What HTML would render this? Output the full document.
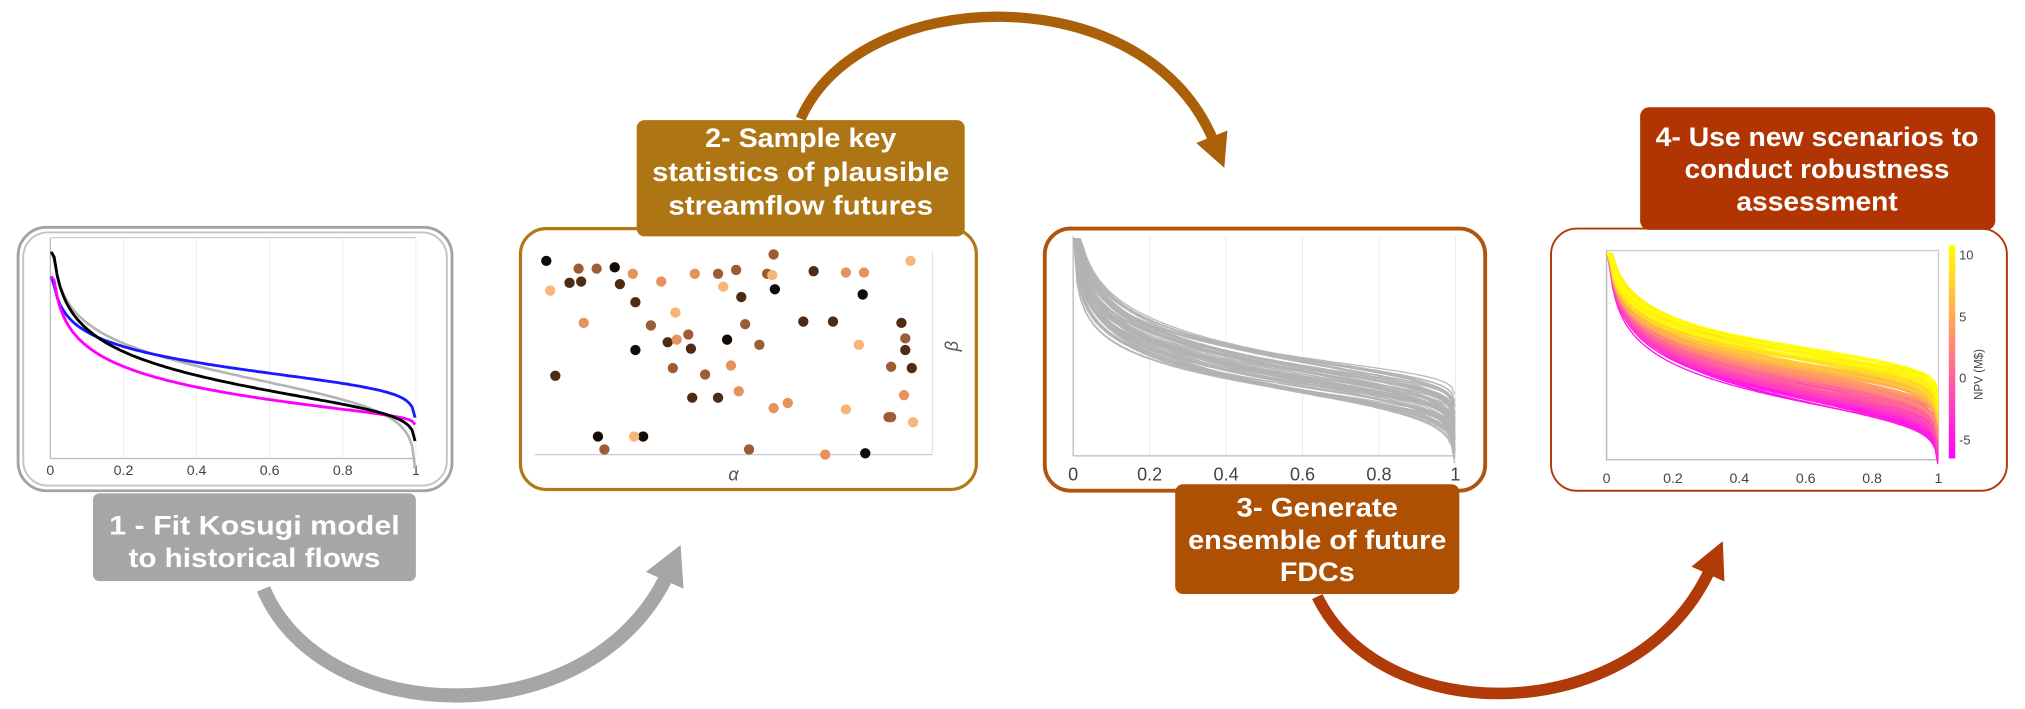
<!DOCTYPE html>
<html><head><meta charset="utf-8"><style>
html,body{margin:0;padding:0;background:#fff;}
svg{display:block;}
text{font-family:"Liberation Sans",Arial,sans-serif;}
</style></head><body>
<svg id="s" width="2025" height="709" viewBox="0 0 1568 549" xmlns="http://www.w3.org/2000/svg">
<rect width="1568" height="549" fill="#fff"/>
<rect x="14" y="176" width="336" height="204" rx="22" fill="#fff" stroke="#a3a3a3" stroke-width="2.2"/>
<rect x="18" y="180" width="328" height="196" rx="19" fill="none" stroke="#c4c4c4" stroke-width="1.5"/>
<g id="p1"></g>
<rect x="403" y="177" width="353" height="202" rx="20" fill="#fff" stroke="#b27817" stroke-width="2.5"/>
<g id="p2"></g>
<rect x="809" y="177" width="341" height="203" rx="20" fill="#fff" stroke="#b0540f" stroke-width="3"/>
<g id="p3"></g>
<rect x="1201" y="177" width="353" height="203" rx="20" fill="#fff" stroke="#b0390a" stroke-width="1.5"/>
<g id="p4"></g>
<g id="arrows"></g>
<rect x="72" y="382" width="250" height="68" rx="5" fill="#a6a6a6"/>
<text x="197" y="414" text-anchor="middle" fill="#fff" font-weight="bold" font-size="21" textLength="225" lengthAdjust="spacingAndGlyphs">1 -  Fit Kosugi model</text>
<text x="197" y="439" text-anchor="middle" fill="#fff" font-weight="bold" font-size="21" textLength="195" lengthAdjust="spacingAndGlyphs">to historical flows</text>

<rect x="493" y="93" width="254" height="90" rx="6" fill="#ae7514"/>
<text x="620" y="114" text-anchor="middle" fill="#fff" font-weight="bold" font-size="21" textLength="148" lengthAdjust="spacingAndGlyphs">2- Sample key</text>
<text x="620" y="140" text-anchor="middle" fill="#fff" font-weight="bold" font-size="21" textLength="230" lengthAdjust="spacingAndGlyphs">statistics of plausible</text>
<text x="620" y="166" text-anchor="middle" fill="#fff" font-weight="bold" font-size="21" textLength="205" lengthAdjust="spacingAndGlyphs">streamflow futures</text>

<rect x="910" y="375" width="220" height="85" rx="6" fill="#ae5003"/>
<text x="1020" y="400" text-anchor="middle" fill="#fff" font-weight="bold" font-size="21" textLength="125" lengthAdjust="spacingAndGlyphs">3- Generate</text>
<text x="1020" y="425" text-anchor="middle" fill="#fff" font-weight="bold" font-size="21" textLength="200" lengthAdjust="spacingAndGlyphs">ensemble of future</text>
<text x="1020" y="450" text-anchor="middle" fill="#fff" font-weight="bold" font-size="21" textLength="58" lengthAdjust="spacingAndGlyphs">FDCs</text>

<rect x="1270" y="83" width="275" height="95" rx="7" fill="#b03503"/>
<text x="1407" y="113" text-anchor="middle" fill="#fff" font-weight="bold" font-size="21" textLength="250" lengthAdjust="spacingAndGlyphs">4- Use new scenarios to</text>
<text x="1407" y="138" text-anchor="middle" fill="#fff" font-weight="bold" font-size="21" textLength="205" lengthAdjust="spacingAndGlyphs">conduct robustness</text>
<text x="1407" y="163" text-anchor="middle" fill="#fff" font-weight="bold" font-size="21" textLength="125" lengthAdjust="spacingAndGlyphs">assessment</text>
</svg>
<script>
var NS="http://www.w3.org/2000/svg";
function el(p,t,a,txt){var e=document.createElementNS(NS,t);for(var k in a)e.setAttribute(k,a[k]);if(txt!==undefined)e.textContent=txt;p.appendChild(e);return e;}
var seed=7;function rnd(){seed=(seed*16807)%2147483647;return (seed-1)/2147483646;}
function curve(g,x0,x1,top,y50,A,B,col,w,op){
  var d="";for(var i=0;i<=120;i++){var p=0.002+0.996*i/120;var y=y50+A*Math.log(2*p)-B*Math.log(2*(1-p));if(y<top)y=top;var x=x0+(x1-x0)*p;d+=(i?"L":"M")+x.toFixed(1)+","+y.toFixed(1);}
  el(g,"path",{d:d,fill:"none",stroke:col,"stroke-width":w,"stroke-opacity":op||1});
}
function axes(g,x0,x1,yt,yb,ly,fs,grid){
  var labs=["0","0.2","0.4","0.6","0.8","1"];
  for(var i=0;i<6;i++){var x=x0+(x1-x0)*i/5;
    if(grid)el(g,"line",{x1:x,y1:yt,x2:x,y2:yb,stroke:"#ececec","stroke-width":0.8});
    el(g,"text",{x:x,y:ly,"text-anchor":"middle","font-size":fs,fill:"#444"},labs[i]);}
  el(g,"line",{x1:x0,y1:yb,x2:x1,y2:yb,stroke:"#bbb","stroke-width":1});
  el(g,"line",{x1:x0,y1:yt,x2:x0,y2:yb,stroke:"#bbb","stroke-width":1});
}
var g1=document.getElementById("p1");
axes(g1,39,322,184,355,368,11,true);
el(g1,"line",{x1:39,y1:184,x2:322,y2:184,stroke:"#ccc","stroke-width":1});
curve(g1,39,322,195,290,21,10.5,"#b4b4b4",2);
curve(g1,39,322,214,285,15.6,5,"#1a1aff",2.2);
curve(g1,39,322,214,305,22.4,1.5,"#ff00ff",2.2);
curve(g1,39,322,195,297,24.4,5,"#000",2.2);
var g2=document.getElementById("p2");
el(g2,"line",{x1:414,y1:352,x2:722,y2:352,stroke:"#ccc","stroke-width":1});
el(g2,"line",{x1:722,y1:195,x2:722,y2:352,stroke:"#e2e2e2","stroke-width":1});
el(g2,"text",{x:568,y:372,"text-anchor":"middle","font-size":14,"font-style":"italic",fill:"#555","font-family":"Liberation Serif"},"α");
el(g2,"text",{x:742,y:268,"text-anchor":"middle","font-size":14,"font-style":"italic",fill:"#555","font-family":"Liberation Serif",transform:"rotate(-90 742 268)"},"β");
var pts=[[423,202,0],[426,225,4],[441,219,1],[448,208,2],[450,218,1],[462,208,2],[476,207,0],[490,212,3],[512,218,3],[538,212,3],[556,212,2],[560,222,4],[570,209,2],[599,197,2],[594,212,2],[598,213,4],[600,224,0],[655,211,3],[669,211,3],[705,202,4],[452,250,3],[492,234,1],[523,242,4],[574,230,1],[504,252,2],[517,265,1],[535,270,1],[533,259,2],[524,263,3],[563,263,0],[577,251,2],[588,267,2],[622,249,1],[645,249,1],[665,267,4],[668,228,0],[698,250,1],[701,262,2],[706,285,1],[701,271,1],[430,291,1],[492,271,0],[546,290,2],[566,283,3],[556,308,1],[536,308,1],[599,316,3],[610,312,3],[655,317,4],[690,323,2],[707,327,4],[700,306,3],[690,284,2],[463,338,0],[468,348,2],[498,338,0],[491,338,4],[580,348,2],[639,352,3],[670,351,0],[688,323,2],[521,285,2],[572,303,3],[480,220,1],[630,210,1]];
var cols=["#140b05","#4f2b14","#9c5c35","#e6925c","#f7b578"];
pts.forEach(function(p){el(g2,"circle",{cx:p[0],cy:p[1],r:4,fill:cols[p[2]]});});
var g3=document.getElementById("p3");
axes(g3,831,1127,183,353,372,14,true);
for(var i=0;i<70;i++){curve(g3,831,1127,185,272+rnd()*28,19+rnd()*8,3+rnd()*5,"#b3b3b3",1,0.9);}
var g4=document.getElementById("p4");
el(g4,"rect",{x:1244,y:194,width:257,height:162,fill:"none",stroke:"#ccc","stroke-width":1});
axes(g4,1244,1501,194,356,374,11,false);
var defs=el(document.getElementById("s"),"defs",{});
var lg=el(defs,"linearGradient",{id:"cb",x1:0,y1:0,x2:0,y2:1});
el(lg,"stop",{offset:"0","stop-color":"#ffff00"});el(lg,"stop",{offset:"1","stop-color":"#ff00ff"});
el(g4,"rect",{x:1509,y:190,width:5,height:165,fill:"url(#cb)"});
[["10",197],["5",245],["0",292],["-5",340]].forEach(function(t){el(g4,"text",{x:1517,y:t[1]+4,"font-size":10,fill:"#444"},t[0]);});
el(g4,"text",{x:1535,y:290,"text-anchor":"middle","font-size":9,fill:"#444",transform:"rotate(-90 1535 290)"},"NPV (M$)");
var N=160;
for(var i=0;i<N;i++){var t=i/(N-1);
  var y50=305-t*38+(rnd()-0.5)*8;var A=26-t*8+(rnd()-0.5)*3;var B=4+rnd()*3;
  var gg=Math.round(255*t),b=Math.round(255*(1-t));
  curve(g4,1244,1501,196,y50,A,B,"rgb(255,"+gg+","+b+")",1);}
var ga=document.getElementById("arrows");
function arrow(start,c1,c2,tip,dir,col,w,hw,hl){
  var ux=dir[0],uy=dir[1],l=Math.hypot(ux,uy);ux/=l;uy/=l;var px=-uy,py=ux;
  var bx=tip[0]-ux*hl,by=tip[1]-uy*hl;
  var ex=bx+ux*2,ey=by+uy*2;
  el(ga,"path",{d:"M"+start+" C"+c1+" "+c2+" "+ex+","+ey,fill:"none",stroke:col,"stroke-width":w});
  el(ga,"polygon",{points:tip[0]+","+tip[1]+" "+(bx+px*hw)+","+(by+py*hw)+" "+(bx-px*hw)+","+(by-py*hw),fill:col});
}
arrow("204,456","250,565","455,570",[527,422],[0.45,-1],"#a6a6a6",11,16,30);
arrow("620,92","665,-12","885,-20",[948,130],[0.4,1],"#aa6008",8,13,26);
arrow("1020,462","1070,565","1265,565",[1334,419],[0.45,-1],"#b03a08",9,14,28);
</script>
</body></html>
